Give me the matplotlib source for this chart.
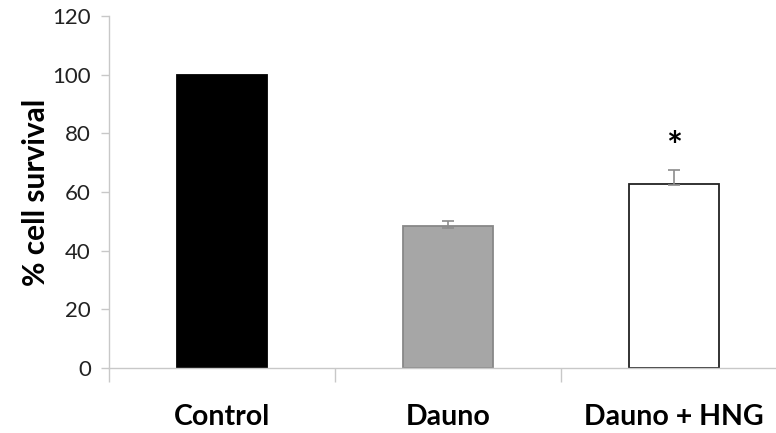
import matplotlib
matplotlib.use("Agg")
import matplotlib.pyplot as plt
from matplotlib.ticker import FixedLocator

categories = ["Control", "Dauno", "Dauno + HNG"]
values = [100, 48.5, 62.8]
err_low = [0, 0.8, 0.5]
err_high = [0, 1.5, 4.8]
yticks = [0, 20, 40, 60, 80, 100, 120]
ylabel = "% cell survival"
star_label = "*"
star_y = 75

plt.rcParams['font.family'] = ['Lato', 'DejaVu Sans']

fig = plt.figure(figsize=(7.76, 4.33), dpi=100)
ax = fig.add_axes([109/776, (433-368)/433, (776-109)/776, (368-16)/433])

x = list(range(len(categories)))
faces = ["#000000", "#a6a6a6", "#ffffff"]
edges = ["#000000", "#888888", "#222222"]
ax.bar(x, values, width=0.40, color=faces, edgecolor=edges, linewidth=1.3, zorder=2)
ax.errorbar(x[1:], values[1:], yerr=[err_low[1:], err_high[1:]], fmt='none',
            ecolor="#8c8c8c", elinewidth=1.2, capsize=4, capthick=1.2, zorder=3)
ax.text(2, star_y, star_label, ha='center', va='center', fontsize=27, fontweight='bold')

ax.set_ylim(0, 120)
ax.set_xlim(-0.5, -0.5 + 667/226)
ax.set_yticks(yticks)
ax.set_yticklabels([str(t) for t in yticks], fontsize=16, color="#222222")
ax.tick_params(axis='y', length=6, width=1, color="#c8c8c8", pad=7)

ax.xaxis.set_major_locator(FixedLocator([-0.5, 0.5, 1.5, 2.5]))
ax.xaxis.set_minor_locator(FixedLocator(x))
ax.set_xticklabels([], minor=False)
ax.set_xticklabels(categories, minor=True, fontsize=20.5, fontweight='bold')
ax.tick_params(axis='x', which='major', length=10, width=1, color="#c8c8c8")
ax.tick_params(axis='x', which='minor', length=0, pad=26)

ax.set_ylabel(ylabel, fontsize=21.5, fontweight='bold', labelpad=2)

for s in ['top', 'right']:
    ax.spines[s].set_visible(False)
for s in ['left', 'bottom']:
    ax.spines[s].set_color("#c8c8c8")
    ax.spines[s].set_linewidth(1)

fig.savefig("out.png", dpi=100)
